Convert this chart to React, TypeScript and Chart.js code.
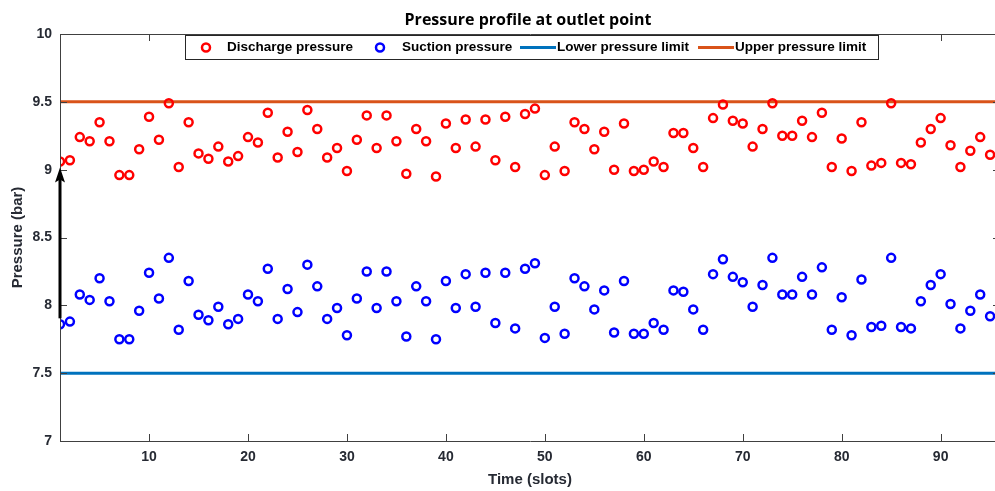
import React, { useEffect, useRef } from "react";
import { Chart, registerables } from "chart.js";

Chart.register(...registerables);

// ---------------- data ----------------
const slots = [
  1, 2, 3, 4, 5, 6, 7, 8, 9, 10, 11, 12, 13, 14, 15, 16, 17, 18, 19, 20,
  21, 22, 23, 24, 25, 26, 27, 28, 29, 30, 31, 32, 33, 34, 35, 36, 37, 38, 39, 40,
  41, 42, 43, 44, 45, 46, 47, 48, 49, 50, 51, 52, 53, 54, 55, 56, 57, 58, 59, 60,
  61, 62, 63, 64, 65, 66, 67, 68, 69, 70, 71, 72, 73, 74, 75, 76, 77, 78, 79, 80,
  81, 82, 83, 84, 85, 86, 87, 88, 89, 90, 91, 92, 93, 94, 95,
];

const dischargePressure = [
  9.06, 9.07, 9.24, 9.21, 9.35, 9.21, 8.96, 8.96, 9.15, 9.39,
  9.22, 9.49, 9.02, 9.35, 9.12, 9.08, 9.17, 9.06, 9.1, 9.24,
  9.2, 9.42, 9.09, 9.28, 9.13, 9.44, 9.3, 9.09, 9.16, 8.99,
  9.22, 9.4, 9.16, 9.4, 9.21, 8.97, 9.3, 9.21, 8.95, 9.34,
  9.16, 9.37, 9.17, 9.37, 9.07, 9.39, 9.02, 9.41, 9.45, 8.96,
  9.17, 8.99, 9.35, 9.3, 9.15, 9.28, 9.0, 9.34, 8.99, 9.0,
  9.06, 9.02, 9.27, 9.27, 9.16, 9.02, 9.38, 9.48, 9.36, 9.34,
  9.17, 9.3, 9.49, 9.25, 9.25, 9.36, 9.24, 9.42, 9.02, 9.23,
  8.99, 9.35, 9.03, 9.05, 9.49, 9.05, 9.04, 9.2, 9.3, 9.38,
  9.18, 9.02, 9.14, 9.24, 9.11,
];

const suctionPressure = [
  7.86, 7.88, 8.08, 8.04, 8.2, 8.03, 7.75, 7.75, 7.96, 8.24,
  8.05, 8.35, 7.82, 8.18, 7.93, 7.89, 7.99, 7.86, 7.9, 8.08,
  8.03, 8.27, 7.9, 8.12, 7.95, 8.3, 8.14, 7.9, 7.98, 7.78,
  8.05, 8.25, 7.98, 8.25, 8.03, 7.77, 8.14, 8.03, 7.75, 8.18,
  7.98, 8.23, 7.99, 8.24, 7.87, 8.24, 7.83, 8.27, 8.31, 7.76,
  7.99, 7.79, 8.2, 8.14, 7.97, 8.11, 7.8, 8.18, 7.79, 7.79,
  7.87, 7.82, 8.11, 8.1, 7.97, 7.82, 8.23, 8.34, 8.21, 8.17,
  7.99, 8.15, 8.35, 8.08, 8.08, 8.21, 8.08, 8.28, 7.82, 8.06,
  7.78, 8.19, 7.84, 7.85, 8.35, 7.84, 7.83, 8.03, 8.15, 8.23,
  8.01, 7.83, 7.96, 8.08, 7.92,
];

const lowerPressureLimit = 7.5;
const upperPressureLimit = 9.5;

const xRange = [1, 96];
const yRange = [7, 10];
const xTickValues = [10, 20, 30, 40, 50, 60, 70, 80, 90];
const yTickValues = [7, 7.5, 8, 8.5, 9, 9.5, 10];

const seriesLabels = [
  "Discharge pressure",
  "Suction pressure",
  "Lower pressure limit",
  "Upper pressure limit",
];
const chartTitle = "Pressure profile at outlet point";
const xAxisTitle = "Time (slots)";
const yAxisTitle = "Pressure (bar)";

// ---------------- styles ----------------
const RED = "#ff0000";
const BLUE = "#0000ff";
const LOWER_COLOR = "#0072bd";
const UPPER_COLOR = "#d95319";
const AXIS_COLOR = "#404040";
const TEXT_COLOR = "#262a33";
const FONT = "'Liberation Sans', Arial, sans-serif";

const framePlugin = {
  id: "matlabFrame",
  afterDraw(chart: any) {
    const { ctx, chartArea: a, scales } = chart;
    const xs = scales.x;
    const ys = scales.y;
    ctx.save();

    // ticks (inward)
    ctx.strokeStyle = AXIS_COLOR;
    ctx.lineWidth = 1;
    ctx.beginPath();
    const tl = 7;
    for (const v of xTickValues) {
      const px = Math.round(xs.getPixelForValue(v)) + 0.5;
      ctx.moveTo(px, a.bottom);
      ctx.lineTo(px, a.bottom - tl);
      ctx.moveTo(px, a.top);
      ctx.lineTo(px, a.top + tl);
    }
    for (const v of yTickValues) {
      const py = Math.round(ys.getPixelForValue(v)) + 0.5;
      ctx.moveTo(a.left, py);
      ctx.lineTo(a.left + tl, py);
      ctx.moveTo(a.right, py);
      ctx.lineTo(a.right - tl, py);
    }
    ctx.stroke();

    // frame
    ctx.beginPath();
    ctx.rect(Math.round(a.left) + 0.5, Math.round(a.top) + 0.5, Math.round(a.right - a.left), Math.round(a.bottom - a.top));
    ctx.stroke();

    // arrow from first suction point to first discharge point
    const ax = xs.getPixelForValue(slots[0]);
    const baseY = ys.getPixelForValue(suctionPressure[0]) - 6;
    const tipY = ys.getPixelForValue(dischargePressure[0]) + 6;
    ctx.strokeStyle = "#000";
    ctx.fillStyle = "#000";
    ctx.lineWidth = 3;
    ctx.beginPath();
    ctx.moveTo(ax, baseY);
    ctx.lineTo(ax, tipY + 10);
    ctx.stroke();
    ctx.beginPath();
    ctx.moveTo(ax, tipY);
    ctx.lineTo(ax - 5, tipY + 15);
    ctx.lineTo(ax, tipY + 12);
    ctx.lineTo(ax + 5, tipY + 15);
    ctx.closePath();
    ctx.fill();

    // legend box
    const bx = 185.5, by = a.top + 1.5, bw = 693, bh = 24;
    ctx.fillStyle = "#fff";
    ctx.fillRect(bx, by, bw, bh);
    ctx.strokeStyle = "#262626";
    ctx.lineWidth = 1;
    ctx.strokeRect(bx, by, bw, bh);
    const cy = by + bh / 2;
    ctx.font = `bold 13.5px ${FONT}`;
    ctx.textAlign = "left";
    ctx.textBaseline = "middle";

    const drawMarker = (x: number, color: string) => {
      ctx.beginPath();
      ctx.arc(x, cy, 4, 0, Math.PI * 2);
      ctx.strokeStyle = color;
      ctx.lineWidth = 2.5;
      ctx.stroke();
    };
    const drawSeg = (x1: number, x2: number, color: string) => {
      ctx.beginPath();
      ctx.moveTo(x1, cy);
      ctx.lineTo(x2, cy);
      ctx.strokeStyle = color;
      ctx.lineWidth = 3;
      ctx.stroke();
    };
    ctx.fillStyle = "#000";
    drawMarker(206, RED);
    ctx.fillText(seriesLabels[0], 227, cy);
    drawMarker(380, BLUE);
    ctx.fillText(seriesLabels[1], 402, cy);
    drawSeg(520, 556, LOWER_COLOR);
    ctx.fillText(seriesLabels[2], 557, cy);
    drawSeg(698, 734, UPPER_COLOR);
    ctx.fillText(seriesLabels[3], 735, cy);

    // title
    ctx.font = `bold 16px 'Open Sans', ${FONT}`;
    ctx.textAlign = "center";
    ctx.fillStyle = "#000";
    ctx.fillText(chartTitle, (a.left + a.right) / 2 - 2, 20);

    ctx.restore();
  },
};

export default function App() {
  const canvasRef = useRef<HTMLCanvasElement | null>(null);

  useEffect(() => {
    const canvas = canvasRef.current;
    if (!canvas) return;

    const discharge = slots.map((s, i) => ({ x: s, y: dischargePressure[i] }));
    const suction = slots.map((s, i) => ({ x: s, y: suctionPressure[i] }));
    const lower = [
      { x: xRange[0], y: lowerPressureLimit },
      { x: xRange[1], y: lowerPressureLimit },
    ];
    const upper = [
      { x: xRange[0], y: upperPressureLimit },
      { x: xRange[1], y: upperPressureLimit },
    ];

    const chart = new Chart(canvas, {
      type: "scatter",
      data: {
        datasets: [
          {
            type: "scatter",
            label: seriesLabels[0],
            data: discharge,
            borderColor: RED,
            backgroundColor: "rgba(0,0,0,0)",
            pointRadius: 4,
            pointBorderWidth: 2.5,
            borderWidth: 2.5,
          },
          {
            type: "scatter",
            label: seriesLabels[1],
            data: suction,
            borderColor: BLUE,
            backgroundColor: "rgba(0,0,0,0)",
            pointRadius: 4,
            pointBorderWidth: 2.5,
            borderWidth: 2.5,
          },
          {
            type: "line",
            label: seriesLabels[2],
            data: lower,
            borderColor: LOWER_COLOR,
            borderWidth: 3,
            pointRadius: 0,
            showLine: true,
            fill: false,
          },
          {
            type: "line",
            label: seriesLabels[3],
            data: upper,
            borderColor: UPPER_COLOR,
            borderWidth: 3,
            pointRadius: 0,
            showLine: true,
            fill: false,
          },
        ] as any,
      },
      options: {
        animation: false,
        responsive: false,
        maintainAspectRatio: false,
        layout: { padding: { top: 34, right: 10, bottom: 0, left: 0 } },
        plugins: {
          legend: { display: false },
          title: { display: false },
          tooltip: { enabled: false },
        },
        scales: {
          x: {
            type: "linear",
            min: xRange[0],
            max: xRange[1],
            grid: { display: false, drawTicks: false },
            border: { display: false },
            afterBuildTicks: (scale: any) => {
              scale.ticks = xTickValues.map((v) => ({ value: v }));
            },
            afterFit: (scale: any) => {
              scale.height = 50;
            },
            ticks: {
              padding: 8,
              color: TEXT_COLOR,
              font: { family: FONT, size: 14, weight: "bold" },
              maxRotation: 0,
              autoSkip: false,
              callback: (v: any) => String(v),
            },
            title: {
              display: true,
              text: xAxisTitle,
              color: TEXT_COLOR,
              font: { family: FONT, size: 15, weight: "bold" },
              padding: { top: 0, bottom: 2 },
            },
          },
          y: {
            type: "linear",
            min: yRange[0],
            max: yRange[1],
            grid: { display: false, drawTicks: false },
            border: { display: false },
            afterBuildTicks: (scale: any) => {
              scale.ticks = yTickValues.map((v) => ({ value: v }));
            },
            afterFit: (scale: any) => {
              scale.width = 60;
            },
            ticks: {
              padding: 8,
              color: TEXT_COLOR,
              font: { family: FONT, size: 14, weight: "bold" },
              autoSkip: false,
              callback: (v: any) => String(v),
            },
            title: {
              display: true,
              text: yAxisTitle,
              color: TEXT_COLOR,
              font: { family: FONT, size: 15, weight: "bold" },
              padding: { top: 9, bottom: 0 },
            },
          },
        },
      } as any,
      plugins: [framePlugin],
    });

    return () => chart.destroy();
  }, []);

  return (
    <div
      style={{
        position: "fixed",
        left: 0,
        top: 0,
        width: 995,
        height: 491,
        overflow: "hidden",
        background: "#fff",
      }}
    >
      <canvas
        ref={canvasRef}
        width={1010}
        height={491}
        style={{ width: 1010, height: 491, display: "block" }}
      />
    </div>
  );
}
